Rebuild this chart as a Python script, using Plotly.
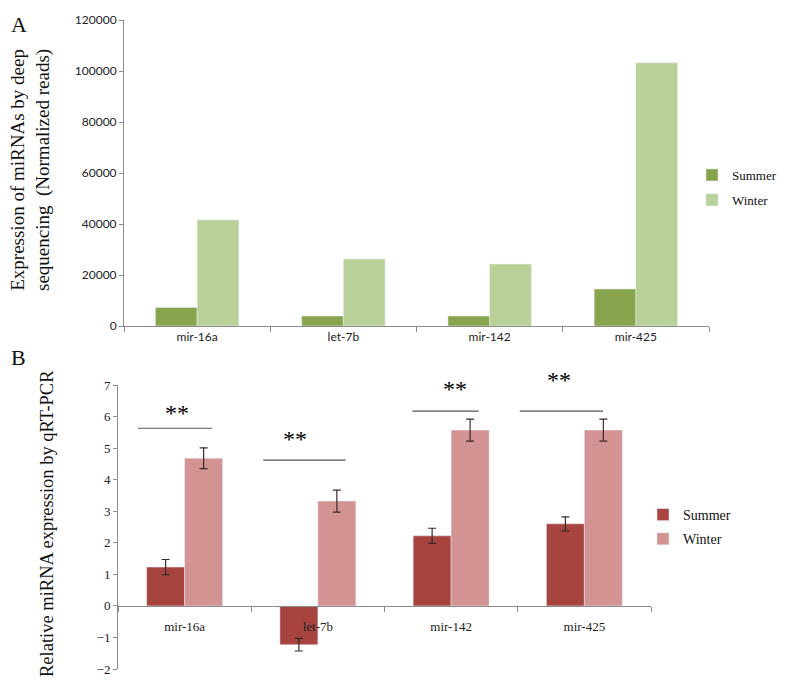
import plotly.graph_objects as go

# ---------------- data ----------------
categories = ["mir-16a", "let-7b", "mir-142", "mir-425"]

# Panel A: deep sequencing (normalized reads)
seq_summer = [7300, 3900, 3900, 14500]
seq_winter = [41600, 26300, 24300, 103200]

# Panel B: qRT-PCR relative expression
pcr_summer = [1.23, -1.23, 2.22, 2.60]
pcr_summer_err = [0.24, 0.20, 0.24, 0.22]
pcr_winter = [4.68, 3.32, 5.57, 5.57]
pcr_winter_err = [0.33, 0.35, 0.35, 0.35]

# significance markers (panel B)
sig_text = ["**", "**", "**", "**"]
sig_line_y = [5.63, 4.62, 6.17, 6.17]
sig_line_from = [-0.35, -0.41, -0.29, -0.485]
sig_line_to = [0.207, 0.207, 0.207, 0.14]
sig_star_y = [6.1, 5.28, 6.86, 7.15]
sig_star_dx = [-0.056, -0.17, 0.03, -0.19]

W, H = 787, 683
PAGE_OFFSET = 8  # default body margin of the html page
SERIF = "Times New Roman, Liberation Serif, serif"
SANS = "Lato, Carlito, Open Sans, sans-serif"

B_RANGE = [-2, 7]

def px_x(p):
    return (p - PAGE_OFFSET) / W

def px_y(p):
    return 1 - (p - PAGE_OFFSET) / H

green_dark = "#88A44C"
green_light = "#B9D098"
red_dark = "#A8443F"
red_light = "#D39392"
axis_col = "#8C8C8C"

fig = go.Figure()

# Panel A
fig.add_trace(go.Bar(x=categories, y=seq_summer, name="Summer", marker_color=green_dark,
                     xaxis="x", yaxis="y", legend="legend", legendgroup="as"))
fig.add_trace(go.Bar(x=categories, y=seq_winter, name="Winter", marker_color=green_light,
                     xaxis="x", yaxis="y", legend="legend", legendgroup="aw"))

# Panel B
fig.add_trace(go.Bar(x=categories, y=pcr_summer, name="Summer", marker_color=red_dark,
                     error_y=dict(type="data", array=pcr_summer_err, color="#3a2a2a",
                                  thickness=1.2, width=4),
                     xaxis="x2", yaxis="y2", legend="legend2", legendgroup="bs"))
fig.add_trace(go.Bar(x=categories, y=pcr_winter, name="Winter", marker_color=red_light,
                     error_y=dict(type="data", array=pcr_winter_err, color="#3a2a2a",
                                  thickness=1.2, width=4),
                     xaxis="x2", yaxis="y2", legend="legend2", legendgroup="bw"))

# significance lines and stars
for i in range(len(categories)):
    fig.add_shape(type="line", xref="x2", yref="y2",
                  x0=i + sig_line_from[i], x1=i + sig_line_to[i],
                  y0=sig_line_y[i], y1=sig_line_y[i],
                  line=dict(color="#555555", width=1.2))
    frac = (sig_star_y[i] - B_RANGE[0]) / (B_RANGE[1] - B_RANGE[0])
    fig.add_annotation(xref="x2", yref="y2 domain", x=i + sig_star_dx[i], y=frac,
                       text=sig_text[i], showarrow=False,
                       font=dict(family=SERIF, size=24, color="#000000"),
                       yanchor="middle", xanchor="center")

# panel letters and axis titles
fig.add_annotation(xref="paper", yref="paper", x=px_x(9), y=px_y(10), text="A",
                   showarrow=False, font=dict(family=SERIF, size=22, color="#111"),
                   xanchor="left", yanchor="top")
fig.add_annotation(xref="paper", yref="paper", x=px_x(9), y=px_y(357), text="B",
                   showarrow=False, font=dict(family=SERIF, size=22, color="#111"),
                   xanchor="left", yanchor="middle")
fig.add_annotation(xref="paper", yref="paper", x=px_x(30), y=px_y(170),
                   text="Expression of miRNAs by deep<br>sequencing  (Normalized reads)",
                   textangle=-90, showarrow=False,
                   font=dict(family=SERIF, size=19, color="#111"),
                   xanchor="center", yanchor="middle")
fig.add_annotation(xref="paper", yref="paper", x=px_x(47), y=px_y(524),
                   text="Relative miRNA expression by qRT-PCR",
                   textangle=-90, showarrow=False,
                   font=dict(family=SERIF, size=18.5, color="#111"),
                   xanchor="center", yanchor="middle")

zero_b = 606

fig.update_layout(
    width=W, height=H,
    margin=dict(l=0, r=0, t=0, b=0, autoexpand=False),
    paper_bgcolor="white", plot_bgcolor="white",
    barmode="group", bargap=0.43, bargroupgap=0,
    font=dict(family=SERIF, size=12, color="#222"),
    xaxis=dict(domain=[px_x(124), px_x(709)], anchor="y",
               showline=True, linecolor=axis_col, linewidth=1,
               ticks="outside", tickson="boundaries", ticklen=5, tickcolor=axis_col,
               tickfont=dict(family=SANS, size=12, color="#222")),
    yaxis=dict(domain=[px_y(326), px_y(20)], anchor="x", range=[0, 120000],
               dtick=20000, showline=True, linecolor=axis_col, linewidth=1,
               ticks="outside", ticklen=4, tickcolor=axis_col, showgrid=False,
               zeroline=False, tickformat="d",
               tickfont=dict(family=SANS, size=12, color="#222")),
    xaxis2=dict(domain=[px_x(118), px_x(651)], anchor="free", position=px_y(zero_b),
                showline=True, linecolor=axis_col, linewidth=1,
                ticks="outside", tickson="boundaries", ticklen=5, tickcolor=axis_col,
                ticklabelstandoff=8,
                tickfont=dict(family=SERIF, size=13, color="#222")),
    yaxis2=dict(domain=[px_y(669), px_y(385)], anchor="x2", range=B_RANGE,
                dtick=1, showline=True, linecolor=axis_col, linewidth=1,
                ticks="outside", ticklen=4, tickcolor=axis_col, showgrid=False,
                zeroline=False,
                tickfont=dict(family=SERIF, size=13, color="#222")),
    legend=dict(x=px_x(692), y=px_y(160), xanchor="left", yanchor="top",
                font=dict(family=SERIF, size=13, color="#111"),
                bgcolor="rgba(0,0,0,0)", itemwidth=30,
                traceorder="grouped", tracegroupgap=5),
    legend2=dict(x=px_x(643), y=px_y(499), xanchor="left", yanchor="top",
                 font=dict(family=SERIF, size=14, color="#111"),
                 bgcolor="rgba(0,0,0,0)", itemwidth=30,
                 traceorder="grouped", tracegroupgap=3),
)

fig.write_html("out.html")
